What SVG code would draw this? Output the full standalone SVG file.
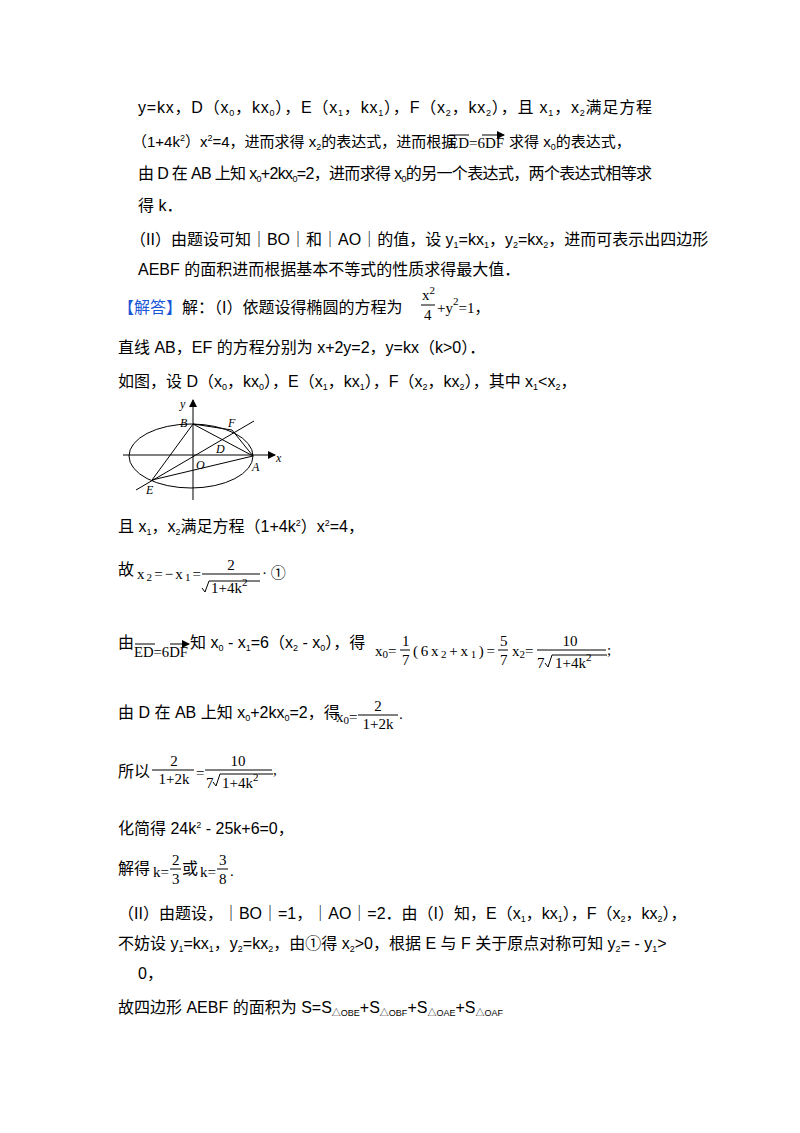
<svg xmlns="http://www.w3.org/2000/svg" width="800" height="1133" viewBox="0 0 800 1133">
<style>
text{font-family:"Liberation Sans","Noto Sans CJK SC",sans-serif;font-size:16px;fill:#000}
.m{font-family:"Liberation Serif","Noto Sans CJK SC",serif;font-size:15px}
.s{font-size:9px}
.sm{font-size:15px}
.b{fill:#1a56d6}
.fl{font-family:"Liberation Serif",serif;font-style:italic;font-size:12px}
.ln{stroke:#000;stroke-width:1;fill:none}
</style>
<defs><marker id="ar" markerWidth="8" markerHeight="8" refX="7" refY="4" orient="auto" markerUnits="userSpaceOnUse"><path d="M0,0L8,4L0,8z"/></marker></defs>
<g id="text">
<text x="138" y="113" textLength="514" lengthAdjust="spacing">y=kx，D（x<tspan class="s" dy="3">0</tspan><tspan dy="-3">，kx</tspan><tspan class="s" dy="3">0</tspan><tspan dy="-3">），E（x</tspan><tspan class="s" dy="3">1</tspan><tspan dy="-3">，kx</tspan><tspan class="s" dy="3">1</tspan><tspan dy="-3">），F（x</tspan><tspan class="s" dy="3">2</tspan><tspan dy="-3">，kx</tspan><tspan class="s" dy="3">2</tspan><tspan dy="-3">），且 x</tspan><tspan class="s" dy="3">1</tspan><tspan dy="-3">，x</tspan><tspan class="s" dy="3">2</tspan><tspan dy="-3">满足方程</tspan></text>
<text class="sm" x="132" y="147">（1+4k<tspan class="s" dy="-6">2</tspan><tspan dy="6">）x</tspan><tspan class="s" dy="-6">2</tspan><tspan dy="6">=4，进而求得 x</tspan><tspan class="s" dy="3">2</tspan><tspan dy="-3">的表达式，进而根据</tspan></text>
<text class="m" x="449" y="148">ED=6DF</text>
<path class="ln" d="M449 135H469M482 135H504" marker-end="url(#ar)"/>
<text class="sm" x="509" y="147">求得 x<tspan class="s" dy="3">0</tspan><tspan dy="-3">的表达式，</tspan></text>
<text x="138" y="179" textLength="514" lengthAdjust="spacing">由 D 在 AB 上知 x<tspan class="s" dy="3">0</tspan><tspan dy="-3">+2kx</tspan><tspan class="s" dy="3">0</tspan><tspan dy="-3">=2，进而求得 x</tspan><tspan class="s" dy="3">0</tspan><tspan dy="-3">的另一个表达式，两个表达式相等求</tspan></text>
<text x="138" y="211">得 k．</text>
<text x="130" y="245">（II）由题设可知｜BO｜和｜AO｜的值，设 y<tspan class="s" dy="3">1</tspan><tspan dy="-3">=kx</tspan><tspan class="s" dy="3">1</tspan><tspan dy="-3">，y</tspan><tspan class="s" dy="3">2</tspan><tspan dy="-3">=kx</tspan><tspan class="s" dy="3">2</tspan><tspan dy="-3">，进而可表示出四边形</tspan></text>
<text x="138" y="275">AEBF 的面积进而根据基本不等式的性质求得最大值．</text>
<text x="118" y="313"><tspan class="b">【解答】</tspan>解：（I）依题设得椭圆的方程为</text>
<text class="m" x="422" y="300">x<tspan dy="-6" font-size="11">2</tspan></text>
<line class="ln" x1="421" y1="305" x2="435" y2="305"/>
<text class="m" x="424" y="320">4</text>
<text class="m" x="437" y="313">+y<tspan dy="-8" font-size="11">2</tspan><tspan dy="8">=1，</tspan></text>
<text x="118" y="353">直线 AB，EF 的方程分别为 x+2y=2，y=kx（k&gt;0）．</text>
<text x="118" y="387">如图，设 D（x<tspan class="s" dy="3">0</tspan><tspan dy="-3">，kx</tspan><tspan class="s" dy="3">0</tspan><tspan dy="-3">），E（x</tspan><tspan class="s" dy="3">1</tspan><tspan dy="-3">，kx</tspan><tspan class="s" dy="3">1</tspan><tspan dy="-3">），F（x</tspan><tspan class="s" dy="3">2</tspan><tspan dy="-3">，kx</tspan><tspan class="s" dy="3">2</tspan><tspan dy="-3">），其中 x</tspan><tspan class="s" dy="3">1</tspan><tspan dy="-3">&lt;x</tspan><tspan class="s" dy="3">2</tspan><tspan dy="-3">，</tspan></text>
<text x="118" y="532">且 x<tspan class="s" dy="3">1</tspan><tspan dy="-3">，x</tspan><tspan class="s" dy="3">2</tspan><tspan dy="-3">满足方程（1+4k</tspan><tspan class="s" dy="-6">2</tspan><tspan dy="6">）x</tspan><tspan class="s" dy="-6">2</tspan><tspan dy="6">=4，</tspan></text>
<text x="118" y="575">故</text>
<text class="m" x="137" y="579" textLength="64" lengthAdjust="spacing">x<tspan font-size="11" dy="2">2</tspan><tspan dy="-2">=−x</tspan><tspan font-size="11" dy="2">1</tspan><tspan dy="-2">=</tspan></text>
<text class="m" x="231" y="570" text-anchor="middle">2</text>
<line class="ln" x1="202" y1="574" x2="260" y2="574"/>
<path class="ln" d="M202 588l3 4 4-11h51"/>
<text class="m" x="211" y="593">1+4k<tspan font-size="11" dy="-7">2</tspan></text>
<text class="m" x="262" y="578">· ①</text>
<text x="118" y="648">由</text>
<text class="m" x="134" y="657" textLength="54" lengthAdjust="spacingAndGlyphs">ED=6DF</text>
<path class="ln" d="M135 644H155M170 644H189" marker-end="url(#ar)"/>
<text x="190" y="648">知 x<tspan class="s" dy="3">0</tspan><tspan dy="-3"> - x</tspan><tspan class="s" dy="3">1</tspan><tspan dy="-3">=6（x</tspan><tspan class="s" dy="3">2</tspan><tspan dy="-3"> - x</tspan><tspan class="s" dy="3">0</tspan><tspan dy="-3">），得</tspan></text>
<text class="m" x="375" y="656">x<tspan font-size="11" dy="2">0</tspan><tspan dy="-2">=</tspan></text>
<text class="m" x="402" y="646">1</text>
<line class="ln" x1="400" y1="650" x2="410" y2="650"/>
<text class="m" x="402" y="665">7</text>
<text class="m" x="413" y="656" textLength="82" lengthAdjust="spacing">(6x<tspan font-size="11" dy="2">2</tspan><tspan dy="-2">+x</tspan><tspan font-size="11" dy="2">1</tspan><tspan dy="-2">)=</tspan></text>
<text class="m" x="500" y="646">5</text>
<line class="ln" x1="498" y1="650" x2="508" y2="650"/>
<text class="m" x="500" y="665">7</text>
<text class="m" x="512" y="656">x<tspan font-size="11" dy="2">2</tspan><tspan dy="-2">=</tspan></text>
<text class="m" x="570" y="646" text-anchor="middle">10</text>
<line class="ln" x1="537" y1="650" x2="606" y2="650"/>
<text class="m" x="537" y="668">7</text>
<path class="ln" d="M545 663l3 4 4-12h55"/>
<text class="m" x="555" y="668">1+4k<tspan font-size="11" dy="-7">2</tspan></text>
<text class="m" x="607" y="655">;</text>
<text x="118" y="718">由 D 在 AB 上知 x<tspan class="s" dy="3">0</tspan><tspan dy="-3">+2kx</tspan><tspan class="s" dy="3">0</tspan><tspan dy="-3">=2，得</tspan></text>
<text class="m" x="336" y="722">x<tspan font-size="11" dy="2">0</tspan><tspan dy="-2">=</tspan></text>
<text class="m" x="378" y="711" text-anchor="middle">2</text>
<line class="ln" x1="358" y1="715" x2="398" y2="715"/>
<text class="m" x="378" y="729" text-anchor="middle">1+2k</text>
<text class="m" x="399" y="719">.</text>
<text x="118" y="777">所以</text>
<text class="m" x="174" y="766" text-anchor="middle">2</text>
<line class="ln" x1="152" y1="770" x2="194" y2="770"/>
<text class="m" x="174" y="784" text-anchor="middle">1+2k</text>
<text class="m" x="196" y="778">=</text>
<text class="m" x="238" y="766" text-anchor="middle">10</text>
<line class="ln" x1="205" y1="770" x2="272" y2="770"/>
<text class="m" x="206" y="788">7</text>
<path class="ln" d="M213 782l3 4 4-12h53"/>
<text class="m" x="222" y="788">1+4k<tspan font-size="11" dy="-7">2</tspan></text>
<text class="m" x="273" y="775">,</text>
<text x="118" y="834">化简得 24k<tspan class="s" dy="-6">2</tspan><tspan dy="6"> - 25k+6=0，</tspan></text>
<text x="118" y="874">解得</text>
<text class="m" x="153" y="877">k=</text>
<text class="m" x="172" y="865">2</text>
<line class="ln" x1="170" y1="869" x2="181" y2="869"/>
<text class="m" x="172" y="884">3</text>
<text x="182" y="874">或</text>
<text class="m" x="200" y="877">k=</text>
<text class="m" x="219" y="865">3</text>
<line class="ln" x1="217" y1="869" x2="228" y2="869"/>
<text class="m" x="219" y="884">8</text>
<text class="m" x="230" y="876">.</text>
<text x="118" y="919">（II）由题设，｜BO｜=1，｜AO｜=2．由（I）知，E（x<tspan class="s" dy="3">1</tspan><tspan dy="-3">，kx</tspan><tspan class="s" dy="3">1</tspan><tspan dy="-3">），F（x</tspan><tspan class="s" dy="3">2</tspan><tspan dy="-3">，kx</tspan><tspan class="s" dy="3">2</tspan><tspan dy="-3">），</tspan></text>
<text x="118" y="949">不妨设 y<tspan class="s" dy="3">1</tspan><tspan dy="-3">=kx</tspan><tspan class="s" dy="3">1</tspan><tspan dy="-3">，y</tspan><tspan class="s" dy="3">2</tspan><tspan dy="-3">=kx</tspan><tspan class="s" dy="3">2</tspan><tspan dy="-3">，由①得 x</tspan><tspan class="s" dy="3">2</tspan><tspan dy="-3">&gt;0，根据 E 与 F 关于原点对称可知 y</tspan><tspan class="s" dy="3">2</tspan><tspan dy="-3">= - y</tspan><tspan class="s" dy="3">1</tspan><tspan dy="-3">&gt;</tspan></text>
<text x="138" y="979">0，</text>
<text x="118" y="1013">故四边形 AEBF 的面积为 S=S<tspan class="s" dy="3">△OBE</tspan><tspan dy="-3">+S</tspan><tspan class="s" dy="3">△OBF</tspan><tspan dy="-3">+S</tspan><tspan class="s" dy="3">△OAE</tspan><tspan dy="-3">+S</tspan><tspan class="s" dy="3">△OAF</tspan></text>
</g>
<g id="figure">
<ellipse class="ln" cx="191" cy="456" rx="62" ry="32"/>
<line class="ln" x1="123" y1="455" x2="275" y2="455" marker-end="url(#ar)"/>
<line class="ln" x1="193" y1="500" x2="193" y2="400" marker-end="url(#ar)"/>
<path class="ln" d="M136 490L254 421M193 424L253 456M193 424L152 480L253 456M193 424L232 430L253 456"/>
<text class="fl" x="180" y="408">y</text>
<text class="fl" x="180" y="427">B</text>
<text class="fl" x="228" y="427">F</text>
<text class="fl" x="216" y="453">D</text>
<text class="fl" x="196" y="469">O</text>
<text class="fl" x="252" y="471">A</text>
<text class="fl" x="276" y="462">x</text>
<text class="fl" x="146" y="494">E</text>
</g>
</svg>
